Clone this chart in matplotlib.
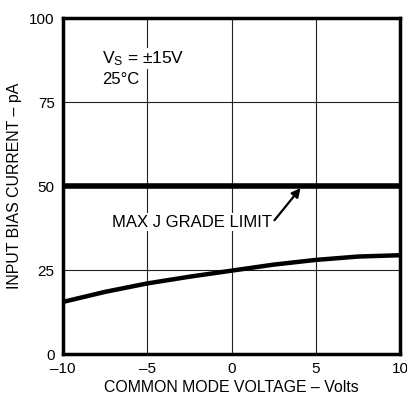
import matplotlib.pyplot as plt

plt.rcParams['font.family'] = ['Liberation Sans', 'DejaVu Sans']

# bias current vs common-mode voltage
vcm = [-10, -7.5, -5, -2.5, 0, 2.5, 5, 7.5, 10]
ib = [15.5, 18.5, 21.0, 23.0, 24.8, 26.6, 28.0, 29.0, 29.4]
limit = 50

x_ticks = [-10, -5, 0, 5, 10]
y_ticks = [0, 25, 50, 75, 100]

fig = plt.figure(figsize=(4.07, 3.98), dpi=100)
ax = fig.add_axes([63 / 407, 44 / 398, 337 / 407, 336 / 398])

ax.plot(vcm, ib, color='black', lw=3.2, solid_capstyle='butt', zorder=3)
ax.axhline(limit, color='black', lw=4, zorder=3)

ax.set_xlim(-10, 10)
ax.set_ylim(0, 100)
ax.set_xticks(x_ticks)
ax.set_xticklabels(['\u201310', '\u20135', '0', '5', '10'])
ax.set_yticks(y_ticks)
ax.tick_params(length=0, labelsize=11, pad=6)
ax.grid(True, color='#222222', lw=0.8)
for s in ax.spines.values():
    s.set_linewidth(2.5)

ax.set_xlabel('COMMON MODE VOLTAGE \u2013 Volts', fontsize=11.4, labelpad=3)
ax.set_ylabel('INPUT BIAS CURRENT \u2013 pA', fontsize=11.4, labelpad=5)

box = dict(facecolor='white', edgecolor='none', pad=1)
ax.text(-7.7, 88, '$\\mathregular{V_S}$ = \u00b115V', fontsize=12.5, va='center', bbox=box, zorder=4)
ax.text(-7.7, 81.8, '25\u00b0C', fontsize=12, va='center', bbox=box, zorder=4)

ax.text(2.4, 39.2, 'MAX J GRADE LIMIT', ha='right', va='center', fontsize=12,
        bbox=box, zorder=4)
ax.annotate('', xy=(4.1, 49.4), xytext=(2.55, 39.8),
            arrowprops=dict(arrowstyle='-|>', color='black', lw=1.6,
                            shrinkA=0, shrinkB=0, mutation_scale=13))

fig.savefig('out.png', dpi=100)
